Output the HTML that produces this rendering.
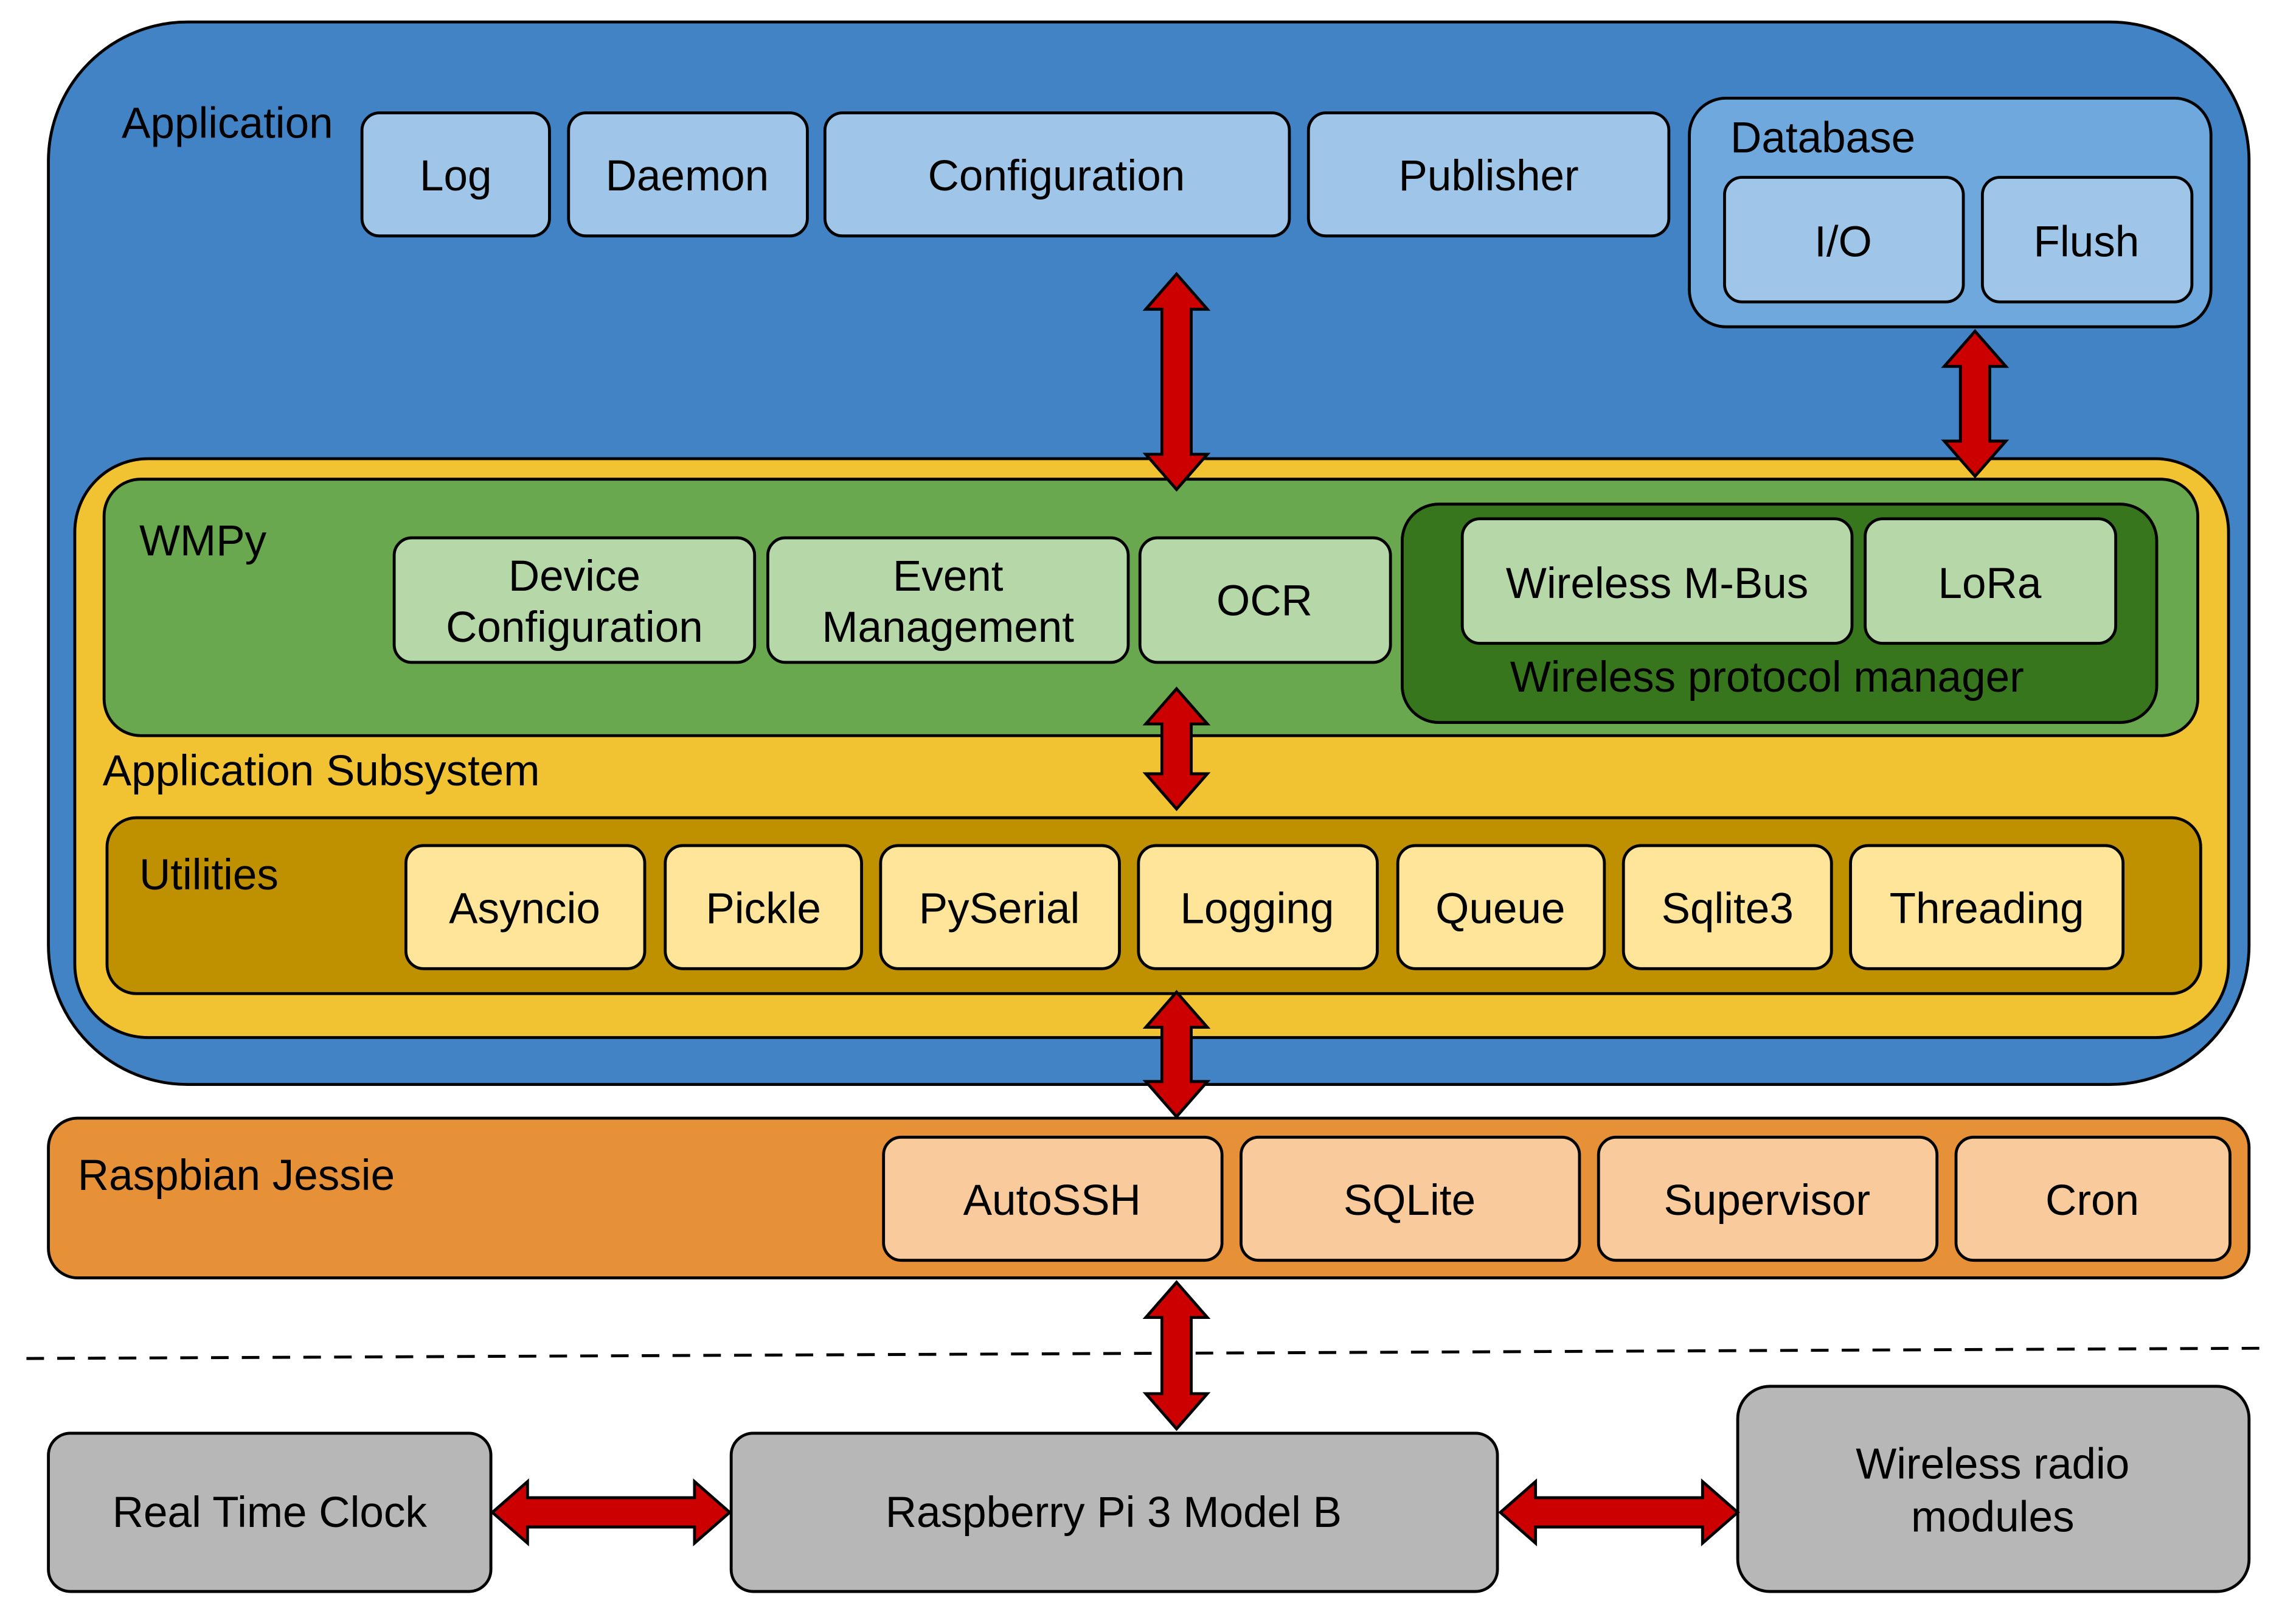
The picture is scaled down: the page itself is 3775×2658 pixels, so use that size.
<!DOCTYPE html>
<html><head><style>html,body{margin:0;padding:0;background:#fff}svg{display:block}</style></head>
<body>
<svg xmlns="http://www.w3.org/2000/svg" width="3775" height="2658" viewBox="0 0 1567 1103.4" font-family="Liberation Sans, Arial, sans-serif" font-size="29.5">
<rect x="0" y="0" width="1567" height="1103.4" fill="#fff"/>
<g stroke="#000" stroke-width="2">
<rect x="33" y="15" width="1502" height="725" rx="95" fill="#4183c4"/>
<rect x="247" y="77" width="128" height="84" rx="12" fill="#9fc5e8"/>
<rect x="388" y="77" width="163" height="84" rx="12" fill="#9fc5e8"/>
<rect x="563" y="77" width="317" height="84" rx="12" fill="#9fc5e8"/>
<rect x="893" y="77" width="246" height="84" rx="12" fill="#9fc5e8"/>
<rect x="1153" y="67" width="356" height="156" rx="25" fill="#6fa8dc"/>
<rect x="1177" y="121" width="163" height="85" rx="12" fill="#9fc5e8"/>
<rect x="1353" y="121" width="143" height="85" rx="12" fill="#9fc5e8"/>
<rect x="51" y="313" width="1470" height="395" rx="50" fill="#f1c232"/>
<rect x="71" y="327" width="1429" height="175" rx="25" fill="#6aa84f"/>
<rect x="269" y="367" width="246" height="85" rx="12" fill="#b6d7a8"/>
<rect x="524" y="367" width="246" height="85" rx="12" fill="#b6d7a8"/>
<rect x="778" y="367" width="171" height="85" rx="12" fill="#b6d7a8"/>
<rect x="957" y="344" width="515" height="149" rx="25" fill="#38761d"/>
<rect x="998" y="354" width="266" height="85" rx="12" fill="#b6d7a8"/>
<rect x="1273" y="354" width="171" height="85" rx="12" fill="#b6d7a8"/>
<rect x="73" y="558" width="1429" height="120" rx="20" fill="#bf9000"/>
<rect x="277" y="577" width="163" height="84" rx="12" fill="#ffe599"/>
<rect x="454" y="577" width="134" height="84" rx="12" fill="#ffe599"/>
<rect x="601" y="577" width="163" height="84" rx="12" fill="#ffe599"/>
<rect x="777" y="577" width="163" height="84" rx="12" fill="#ffe599"/>
<rect x="954" y="577" width="141" height="84" rx="12" fill="#ffe599"/>
<rect x="1108" y="577" width="142" height="84" rx="12" fill="#ffe599"/>
<rect x="1263" y="577" width="186" height="84" rx="12" fill="#ffe599"/>
<rect x="33" y="763" width="1502" height="109" rx="20" fill="#e69138"/>
<rect x="603" y="776" width="231" height="84" rx="12" fill="#f9cb9c"/>
<rect x="847" y="776" width="231" height="84" rx="12" fill="#f9cb9c"/>
<rect x="1091" y="776" width="231" height="84" rx="12" fill="#f9cb9c"/>
<rect x="1335" y="776" width="187" height="84" rx="12" fill="#f9cb9c"/>
<rect x="33" y="978" width="302" height="108" rx="15" fill="#b7b7b7"/>
<rect x="499" y="978" width="523" height="108" rx="15" fill="#b7b7b7"/>
<rect x="1186" y="946" width="349" height="140" rx="22" fill="#b7b7b7"/>
<line x1="18" y1="927" x2="1545" y2="920" stroke-dasharray="12,9"/>
</g>
<g fill="#cc0000" stroke="#000" stroke-width="2" stroke-linejoin="miter">
<polygon points="803,187 824,211 813,211 813,310 824,310 803,334 782,310 793,310 793,211 782,211"/>
<polygon points="1348,226 1369,250 1358,250 1358,301 1369,301 1348,325 1327,301 1338,301 1338,250 1327,250"/>
<polygon points="803,470 824,494 813,494 813,528 824,528 803,552 782,528 793,528 793,494 782,494"/>
<polygon points="803,677 824,701 813,701 813,738 824,738 803,762 782,738 793,738 793,701 782,701"/>
<polygon points="803,875 824,899 813,899 813,951 824,951 803,975 782,951 793,951 793,899 782,899"/>
<polygon points="336,1032 360,1011 360,1022 474,1022 474,1011 498,1032 474,1053 474,1042 360,1042 360,1053"/>
<polygon points="1024,1032 1048,1011 1048,1022 1162,1022 1162,1011 1186,1032 1162,1053 1162,1042 1048,1042 1048,1053"/>
</g>
<g fill="#000">
<text x="83" y="94">Application</text>
<text x="1181" y="104">Database</text>
<text x="95" y="379">WMPy</text>
<text x="70" y="536">Application Subsystem</text>
<text x="95" y="607">Utilities</text>
<text x="53" y="812">Raspbian Jessie</text>
</g>
<g fill="#000" text-anchor="middle">
<text x="311" y="130">Log</text>
<text x="469" y="130">Daemon</text>
<text x="721" y="130">Configuration</text>
<text x="1016" y="130">Publisher</text>
<text x="1258" y="175">I/O</text>
<text x="1424" y="175">Flush</text>
<text x="392" y="403">Device</text>
<text x="392" y="438">Configuration</text>
<text x="647" y="403">Event</text>
<text x="647" y="438">Management</text>
<text x="863" y="420">OCR</text>
<text x="1131" y="408">Wireless M-Bus</text>
<text x="1358" y="408">LoRa</text>
<text x="1206" y="472">Wireless protocol manager</text>
<text x="358" y="630">Asyncio</text>
<text x="521" y="630">Pickle</text>
<text x="682" y="630">PySerial</text>
<text x="858" y="630">Logging</text>
<text x="1024" y="630">Queue</text>
<text x="1179" y="630">Sqlite3</text>
<text x="1356" y="630">Threading</text>
<text x="718" y="829">AutoSSH</text>
<text x="962" y="829">SQLite</text>
<text x="1206" y="829">Supervisor</text>
<text x="1428" y="829">Cron</text>
<text x="184" y="1042">Real Time Clock</text>
<text x="760" y="1042">Raspberry Pi 3 Model B</text>
<text x="1360" y="1009">Wireless radio</text>
<text x="1360" y="1045">modules</text>
</g>
</svg>
</body></html>
